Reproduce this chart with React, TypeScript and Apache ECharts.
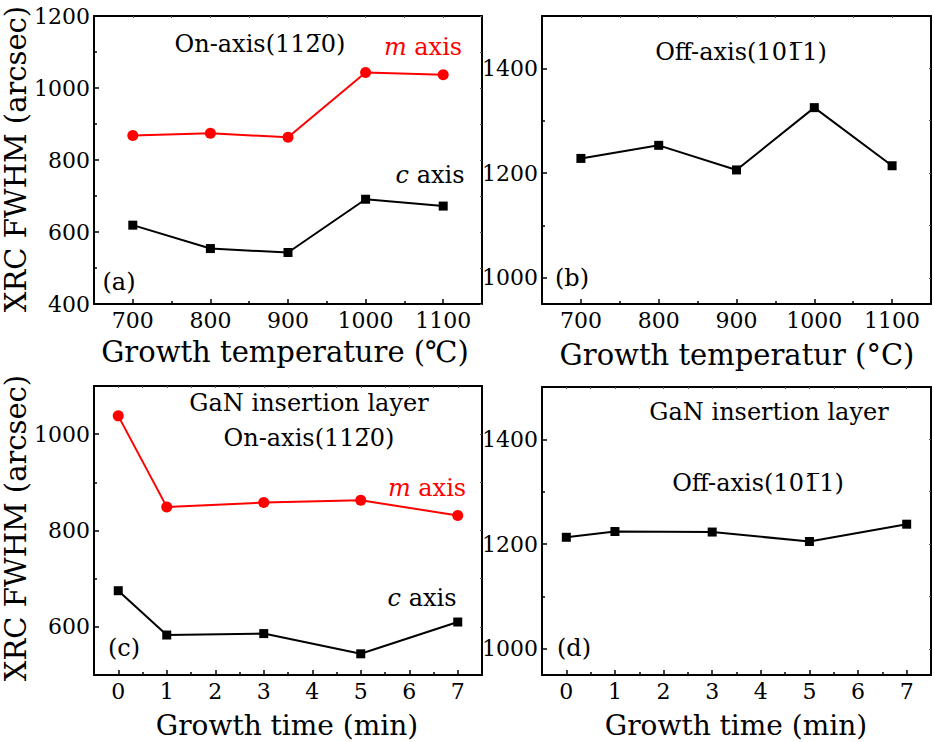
import React, { useEffect, useRef } from "react";
import * as echarts from "echarts";

// ---- data ----
const tempValues = [700, 800, 900, 1000, 1100];
const timeValues = [0, 1, 3, 5, 7];

const aMAxis = [868, 874, 863, 1043, 1037];
const aCAxis = [619, 554, 543, 691, 672];
const bOffAxis = [1228, 1253, 1206, 1325, 1214];
const cMAxis = [1038, 849, 858, 863, 831];
const cCAxis = [675, 583, 586, 544, 610];
const dOffAxis = [1213, 1224, 1223, 1205, 1238];

// ---- tick labels ----
const tempTicks = [700, 800, 900, 1000, 1100];
const tempMinorTicks = [750, 850, 950, 1050];
const timeTicks = [0, 1, 2, 3, 4, 5, 6, 7];
const timeMinorTicks = [0.5, 1.5, 2.5, 3.5, 4.5, 5.5, 6.5];
const aYTicks = [400, 600, 800, 1000, 1200];
const aYMinor = [500, 700, 900, 1100];
const bdYTicks = [1000, 1200, 1400];
const bdYMinor = [1100, 1300];
const cYTicks = [600, 800, 1000];
const cYMinor = [700, 900];

const FONT = "DejaVu Serif";
const RED = "#ff0000";
const BLACK = "#000000";

function axisSet(
  dim: "x" | "y",
  g: number,
  min: number,
  max: number,
  major: number[],
  minor: number[]
) {
  const main = dim === "x" ? "bottom" : "left";
  const mirror = dim === "x" ? "top" : "right";
  const base = {
    type: "value",
    gridIndex: g,
    min,
    max,
    splitLine: { show: false },
  };
  return [
    {
      ...base,
      position: main,
      axisLine: { show: true, onZero: false, lineStyle: { color: BLACK, width: 2 } },
      axisTick: {
        show: true,
        inside: true,
        length: 5,
        customValues: major,
        lineStyle: { color: BLACK, width: 1.5 },
      },
      axisLabel: {
        show: true,
        customValues: major,
        margin: dim === "x" ? 5 : 4,
        color: BLACK,
        fontFamily: FONT,
        fontSize: 22,
        formatter: (v: number) => String(v),
      },
    },
    {
      ...base,
      position: main,
      axisLine: { show: false, onZero: false },
      axisTick: {
        show: true,
        inside: true,
        length: 3,
        customValues: minor,
        lineStyle: { color: BLACK, width: 1.5 },
      },
      axisLabel: { show: false },
    },
    {
      ...base,
      position: mirror,
      axisLine: { show: true, onZero: false, lineStyle: { color: BLACK, width: 2 } },
      axisTick: {
        show: true,
        inside: true,
        length: 2,
        customValues: [...major, ...minor],
        lineStyle: { color: "#555", width: 1 },
      },
      axisLabel: { show: false },
    },
  ];
}

function pairs(xs: number[], ys: number[]) {
  return xs.map((x, i) => [x, ys[i]]);
}

function lineSeries(g: number, data: number[][], color: string, symbol: string, size: number) {
  return {
    type: "line",
    xAxisIndex: g * 3,
    yAxisIndex: g * 3,
    data,
    symbol,
    symbolSize: size,
    itemStyle: { color },
    lineStyle: { color, width: 2 },
    z: 5,
  };
}

function txt(x: number, y: number, text: string, size: number, color = BLACK, extra: any = {}) {
  return {
    type: "text",
    x,
    y,
    z: 10,
    style: {
      text,
      fill: color,
      fontFamily: FONT,
      fontSize: size,
      textAlign: "center",
      textVerticalAlign: "middle",
      ...extra,
    },
  };
}

function italicLabel(x: number, y: number, letter: string, color: string) {
  return {
    type: "text",
    x,
    y,
    z: 10,
    style: {
      text: `{i|${letter}} {n|axis}`,
      fill: color,
      fontFamily: FONT,
      fontSize: 24,
      textAlign: "center",
      textVerticalAlign: "middle",
      rich: {
        i: { fontStyle: "italic", fontFamily: FONT, fontSize: 24, fill: color },
        n: { fontFamily: FONT, fontSize: 24, fill: color },
      },
    },
  };
}

const onAxis = "On-axis(112\u03050)";
const offAxis = "Off-axis(101\u03051)";

export default function App() {
  const ref = useRef<HTMLDivElement>(null);
  useEffect(() => {
    if (!ref.current) return;
    const chart = echarts.init(ref.current, null, { renderer: "svg" });
    const option: any = {
      animation: false,
      backgroundColor: "#ffffff",
      grid: [
        { left: 94, top: 16, width: 388, height: 288, outerBoundsMode: "none" },
        { left: 542, top: 16, width: 389, height: 288, outerBoundsMode: "none" },
        { left: 94, top: 386, width: 388, height: 289, outerBoundsMode: "none" },
        { left: 542, top: 387, width: 389, height: 288, outerBoundsMode: "none" },
      ],
      xAxis: [
        ...axisSet("x", 0, 650, 1150, tempTicks, tempMinorTicks),
        ...axisSet("x", 1, 650, 1150, tempTicks, tempMinorTicks),
        ...axisSet("x", 2, -0.5, 7.5, timeTicks, timeMinorTicks),
        ...axisSet("x", 3, -0.5, 7.5, timeTicks, timeMinorTicks),
      ],
      yAxis: [
        ...axisSet("y", 0, 400, 1200, aYTicks, aYMinor),
        ...axisSet("y", 1, 950, 1500, bdYTicks, bdYMinor),
        ...axisSet("y", 2, 500, 1100, cYTicks, cYMinor),
        ...axisSet("y", 3, 950, 1500, bdYTicks, bdYMinor),
      ],
      series: [
        lineSeries(0, pairs(tempValues, aMAxis), RED, "circle", 11),
        lineSeries(0, pairs(tempValues, aCAxis), BLACK, "rect", 9),
        lineSeries(1, pairs(tempValues, bOffAxis), BLACK, "rect", 9),
        lineSeries(2, pairs(timeValues, cMAxis), RED, "circle", 11),
        lineSeries(2, pairs(timeValues, cCAxis), BLACK, "rect", 9),
        lineSeries(3, pairs(timeValues, dOffAxis), BLACK, "rect", 9),
      ],
      graphic: [
        // axis titles
        txt(16, 159, "XRC FWHM (arcsec)", 29, BLACK, {}),
        txt(16, 528, "XRC FWHM (arcsec)", 29, BLACK, {}),
        txt(285, 352, "Growth temperature (\u2103)", 29),
        txt(737, 355, "Growth temperatur (\u00B0C)", 29),
        txt(287, 725, "Growth time (min)", 28),
        txt(736, 725, "Growth time (min)", 28),
        // annotations
        txt(260, 44, onAxis, 24),
        italicLabel(423, 47, "m", RED),
        italicLabel(430, 175, "c", BLACK),
        txt(119, 282, "(a)", 24),
        txt(741, 52, offAxis, 24),
        txt(572, 278, "(b)", 24),
        txt(309, 403, "GaN insertion layer", 24),
        txt(309, 438, onAxis, 24),
        italicLabel(427, 488, "m", RED),
        italicLabel(422, 598, "c", BLACK),
        txt(124, 648, "(c)", 24),
        txt(769, 412, "GaN insertion layer", 24),
        txt(758, 483, offAxis, 24),
        txt(574, 648, "(d)", 24),
      ].map((g: any, i: number) =>
        i < 2 ? { ...g, rotation: Math.PI / 2 } : g
      ),
    };
    chart.setOption(option);
    return () => chart.dispose();
  }, []);
  return (
    <div
      ref={ref}
      style={{ position: "absolute", left: 0, top: 0, width: 934, height: 742 }}
    />
  );
}
